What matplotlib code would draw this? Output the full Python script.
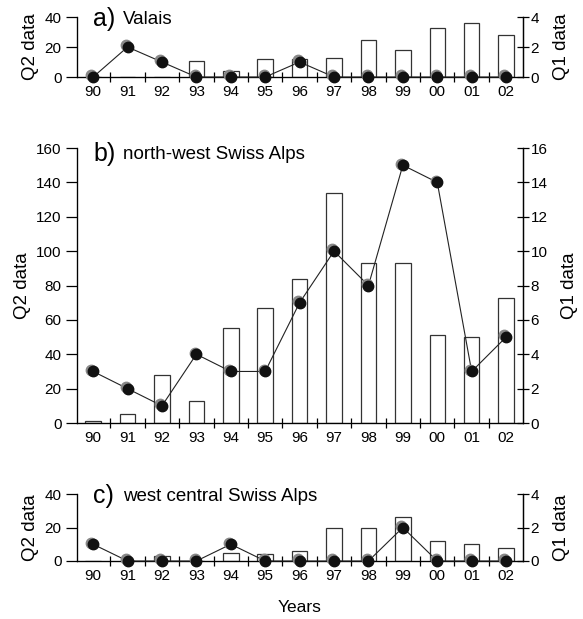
import numpy as np
import matplotlib
matplotlib.use("Agg")
import matplotlib.pyplot as plt
from matplotlib.transforms import offset_copy

plt.rcParams['font.family'] = ['Liberation Sans', 'DejaVu Sans']

years = ['90', '91', '92', '93', '94', '95', '96', '97', '98', '99', '00', '01', '02']

# a) Valais
q2_valais = [0, 0, 0, 11, 4, 12, 12, 13, 25, 18, 33, 36, 28]
q1_valais = [0, 2, 1, 0, 0, 0, 1, 0, 0, 0, 0, 0, 0]

# b) north-west Swiss Alps
q2_nw = [1, 5, 28, 13, 55, 67, 84, 134, 93, 93, 51, 50, 73]
q1_nw = [3, 2, 1, 4, 3, 3, 7, 10, 8, 15, 14, 3, 5]

# c) west central Swiss Alps
q2_wc = [0, 0, 3, 0, 5, 4, 6, 20, 20, 26, 12, 10, 8]
q1_wc = [1, 0, 0, 0, 1, 0, 0, 0, 0, 2, 0, 0, 0]

panels = [
    ("a)", "Valais", q2_valais, q1_valais, 40, [0, 20, 40], [0, 2, 4],
     [0.132, 0.8756, 0.765, 0.0969]),
    ("b)", "north-west Swiss Alps", q2_nw, q1_nw, 160,
     [0, 20, 40, 60, 80, 100, 120, 140, 160], [0, 2, 4, 6, 8, 10, 12, 14, 16],
     [0.132, 0.3166, 0.765, 0.4443]),
    ("c)", "west central Swiss Alps", q2_wc, q1_wc, 40, [0, 20, 40], [0, 2, 4],
     [0.132, 0.0937, 0.765, 0.1082]),
]

fig = plt.figure(figsize=(5.83, 6.19), dpi=100)
x = np.arange(len(years))

for letter, name, q2, q1, ymax, lticks, rticks, pos in panels:
    ax = fig.add_axes(pos)
    ax.bar(x, q2, width=0.45, color='white', edgecolor='#333333', linewidth=0.9, zorder=2)
    ax.set_xlim(-0.47, 12.49)
    ax.set_ylim(0, ymax)
    ax.set_yticks(lticks)
    ax.set_xticks(x)
    ax.set_xticklabels(years)
    ax.set_xticks(np.arange(-0.5, 12.6, 1.0)[1:-1], minor=True)
    ax.tick_params(axis='x', which='major', length=0, labelsize=11, pad=6)
    ax.tick_params(axis='x', which='minor', direction='inout', length=7, width=0.9)
    ax.tick_params(axis='y', direction='out', length=8, width=0.9, labelsize=11, pad=3)
    ax.spines['top'].set_visible(False)
    for s in ['left', 'right', 'bottom']:
        ax.spines[s].set_linewidth(0.9)
    ax.set_ylabel('Q2 data', fontsize=13.5, labelpad=4)

    ax2 = ax.twinx()
    ax2.set_ylim(0, ymax / 10)
    ax2.set_yticks(rticks)
    ax2.tick_params(axis='y', direction='inout', length=9, width=0.9, labelsize=11, pad=1)
    ax2.spines['top'].set_visible(False)
    ax2.spines['right'].set_linewidth(0.9)
    ax2.set_ylabel('Q1 data', fontsize=13.5, labelpad=10)
    ax2.plot(x, q1, color='#222222', linewidth=0.8, zorder=3, clip_on=False)
    shadow = offset_copy(ax2.transData, fig=fig, x=-1.2, y=1.2, units='points')
    ax2.plot(x, q1, 'o', color='#888888', markersize=7.5, transform=shadow,
             zorder=4, clip_on=False)
    ax2.plot(x, q1, 'o', color='#111111', markersize=7.5, zorder=5, clip_on=False)

    shift = -6 if letter == "b)" else -2
    top_shift = offset_copy(ax.transAxes, fig=fig, x=0, y=shift, units='dots')
    ax.text(0.036, 1.0, letter, transform=top_shift, fontsize=18,
            va='center', ha='left')
    ax.text(0.103, 1.0, name, transform=top_shift, fontsize=13.5,
            va='center', ha='left')

    if letter == "c)":
        ax.set_xlabel('Years', fontsize=12.5, labelpad=12)

fig.savefig('out.png', dpi=100)
